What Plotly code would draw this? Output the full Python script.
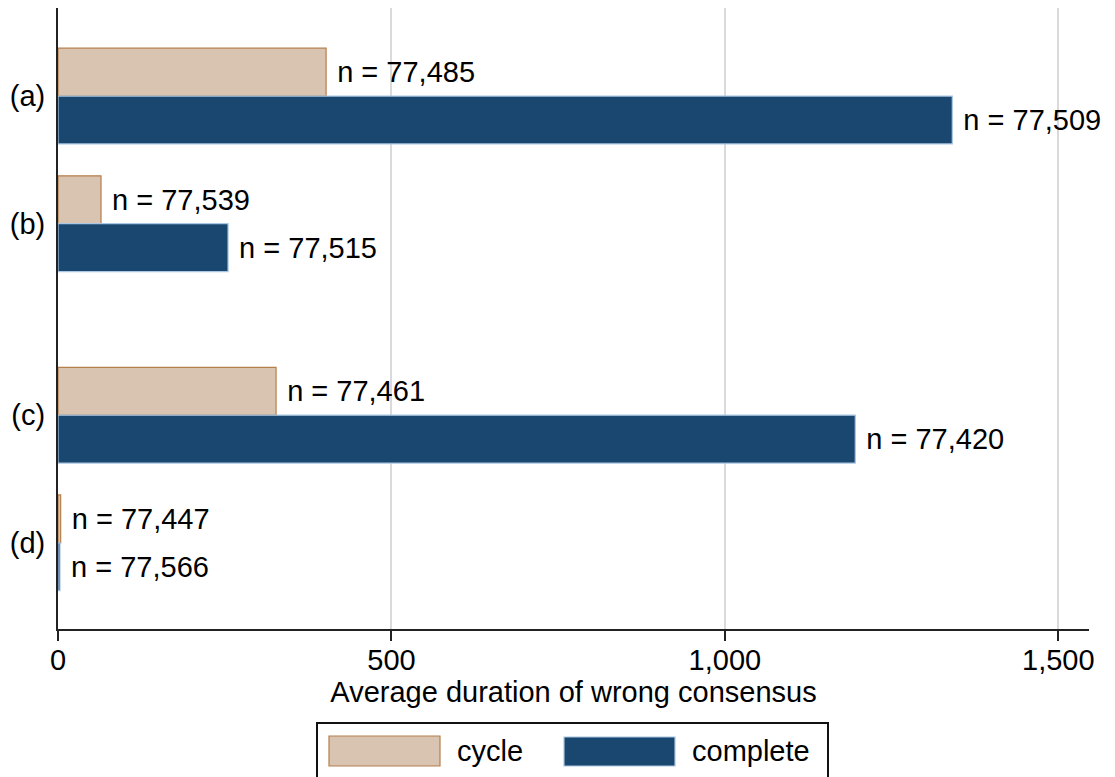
import plotly.graph_objects as go

# ---- data ----
categories = ["(a)", "(b)", "(c)", "(d)"]
series_names = ["cycle", "complete"]
cycle_values = [402, 64.5, 327, 4]
complete_values = [1341, 255, 1195.5, 3]
cycle_n = [77485, 77539, 77461, 77447]
complete_n = [77509, 77515, 77420, 77566]
x_ticks = [0, 500, 1000, 1500]

# ---- layout constants ----
group_pos = [0, 1, 2.5, 3.5]
FONT = "Liberation Sans, Arial, sans-serif"
FS = 29
cycle_fill, cycle_line = "#d8c4b0", "#b57f4d"
comp_fill, comp_line = "#1a476f", "#a9c6e2"

W, H = 1115, 777
ML, MR, MT, MB = 58, 26, 8, 148
PW, PH = W - ML - MR, H - MT - MB


def px_x(p):
    return (p - ML) / PW


def px_y(p):
    return (H - MB - p) / PH


def lab(ns):
    return ["\u00a0n = {:,}".format(v) for v in ns]


fig = go.Figure()
fig.add_trace(go.Bar(
    y=group_pos, x=cycle_values, orientation="h", name=series_names[0],
    marker=dict(color=cycle_fill, line=dict(color=cycle_line, width=1.2)),
    text=lab(cycle_n), textposition="outside", constraintext="none",
    textfont=dict(family=FONT, size=FS, color="black"), cliponaxis=False,
    showlegend=False,
))
fig.add_trace(go.Bar(
    y=group_pos, x=complete_values, orientation="h", name=series_names[1],
    marker=dict(color=comp_fill, line=dict(color=comp_line, width=1.2)),
    text=lab(complete_n), textposition="outside", constraintext="none",
    textfont=dict(family=FONT, size=FS, color="black"), cliponaxis=False,
    showlegend=False,
))

fig.update_layout(
    width=W, height=H,
    margin=dict(l=ML, r=MR, t=MT, b=MB, autoexpand=False),
    paper_bgcolor="white", plot_bgcolor="white",
    barmode="group", bargap=0.25, bargroupgap=0,
    font=dict(family=FONT, size=FS, color="black"),
    xaxis=dict(
        range=[0, 1546], tickvals=x_ticks, tickformat=",", automargin=False,
        showgrid=True, gridcolor="#dadada", gridwidth=2,
        zeroline=False, showline=True, linecolor="#222", linewidth=2,
        ticks="outside", ticklen=10, tickwidth=2, tickcolor="#222",
        ticklabelstandoff=-6,
        tickfont=dict(family=FONT, size=FS, color="black"),
        title=dict(text="Average duration of wrong consensus",
                   font=dict(family=FONT, size=FS, color="black"), standoff=0),
    ),
    yaxis=dict(
        range=[4.175, -0.69], tickvals=group_pos, ticktext=categories,
        automargin=False,
        showgrid=False, zeroline=False, showline=True, linecolor="#222",
        linewidth=2, ticks="", ticklabelstandoff=5,
        tickfont=dict(family=FONT, size=FS, color="black"),
    ),
)

# ---- custom legend ----
shapes = [
    dict(type="rect", xref="paper", yref="paper",
         x0=px_x(317), x1=px_x(828), y0=px_y(800), y1=px_y(723),
         line=dict(color="#111", width=2), fillcolor="white", layer="above"),
    dict(type="rect", xref="paper", yref="paper",
         x0=px_x(329), x1=px_x(440), y0=px_y(766), y1=px_y(736),
         line=dict(color=cycle_line, width=1.2), fillcolor=cycle_fill, layer="above"),
    dict(type="rect", xref="paper", yref="paper",
         x0=px_x(564), x1=px_x(675), y0=px_y(766), y1=px_y(737),
         line=dict(color=comp_line, width=1.2), fillcolor=comp_fill, layer="above"),
]
annotations = [
    dict(text=series_names[0], xref="paper", yref="paper", x=px_x(455), y=px_y(751),
         xanchor="left", yanchor="middle", showarrow=False,
         font=dict(family=FONT, size=FS, color="black")),
    dict(text=series_names[1], xref="paper", yref="paper", x=px_x(690), y=px_y(751),
         xanchor="left", yanchor="middle", showarrow=False,
         font=dict(family=FONT, size=FS, color="black")),
]
fig.update_layout(shapes=shapes, annotations=annotations)

fig.write_html("out.html")
